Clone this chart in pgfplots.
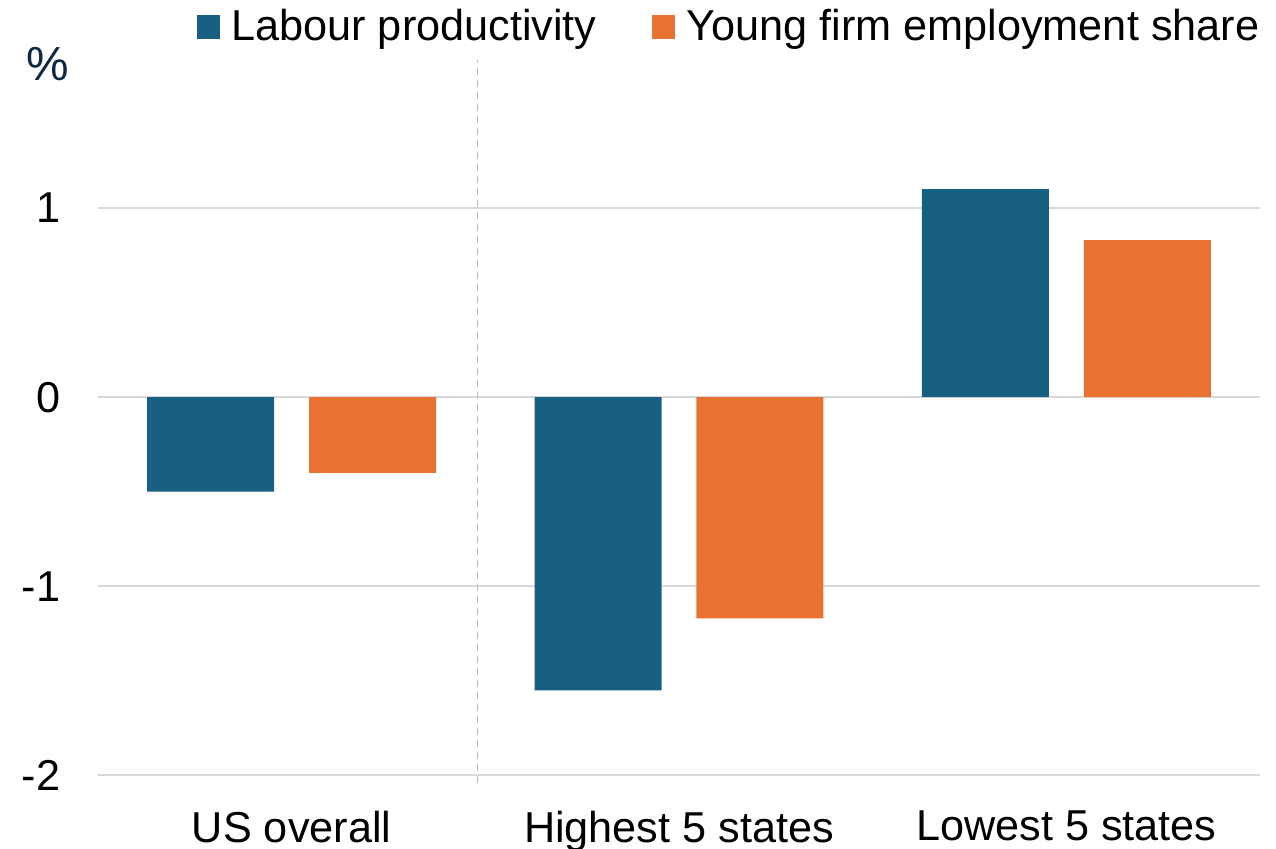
\documentclass[border=0pt]{standalone}
\usepackage{fontspec}
\setmainfont{Liberation Sans}
\usepackage{pgfplots}
\pgfplotsset{compat=1.18}
\definecolor{cBlue}{HTML}{176082}
\definecolor{cOrange}{HTML}{E97132}
\definecolor{cGrid}{HTML}{D9D9D9}
\definecolor{cDash}{HTML}{BFBFBF}
\definecolor{cPct}{HTML}{0E2841}
\begin{document}
\begin{tikzpicture}
\path[use as bounding box] (-0.98cm,-0.66cm) rectangle (11.78cm,7.83cm);
\begin{axis}[
  at={(0,0)}, anchor=south west,
  scale only axis, width=11.62cm, height=7.23cm,
  xmin=-0.5, xmax=2.5, ymin=-2.04, ymax=1.783,
  clip=false,
  axis line style={draw=none},
  major tick length=0pt, tick style={draw=none},
  xtick={0,1,2}, xticklabels={US overall, Highest 5 states, Lowest 5 states},
  ytick={-2,-1,0,1}, yticklabels={-2,-1,0,1},
  ymajorgrids, grid style={cGrid, line width=0.55pt},
  tick label style={font=\fontsize{12.3}{14}\selectfont, text=black},
  yticklabel style={inner sep=0pt, xshift=-3.7mm},
  xticklabel style={inner sep=0pt, yshift=-2.7mm},
  legend columns=2,
  legend style={draw=none, fill=none, inner sep=0pt,
    font=\fontsize{12.3}{14}\selectfont,
    at={(1,1)}, anchor=south east, yshift=1.4mm,
    nodes={inner sep=0pt},
    /tikz/every odd column/.append style={column sep=1.15mm},
    /tikz/every even column/.append style={column sep=5.5mm}},
]
\addplot[ybar, bar width=0.328, bar shift=-0.209, fill=cBlue, draw=none, forget plot]
  coordinates {(0,-0.50) (1,-1.55) (2,1.10)};
\addplot[ybar, bar width=0.328, bar shift=0.209, fill=cOrange, draw=none, forget plot]
  coordinates {(0,-0.40) (1,-1.17) (2,0.83)};
\addlegendimage{legend image code/.code={\fill[cBlue] (0cm,-0.11cm) rectangle (0.22cm,0.11cm);}}
\addlegendentry{Labour productivity}
\addlegendimage{legend image code/.code={\fill[cOrange] (0cm,-0.11cm) rectangle (0.22cm,0.11cm);}}
\addlegendentry{Young firm employment share}
\draw[cDash, dash pattern=on 0.7mm off 0.5mm, line width=0.3pt] (axis cs:0.479,-2.04) -- (axis cs:0.479,1.783);
\node[text=cPct, font=\fontsize{13.6}{15}\selectfont] at (axis description cs:-0.043,0.9945) {\%};
\end{axis}
\end{tikzpicture}
\end{document}
